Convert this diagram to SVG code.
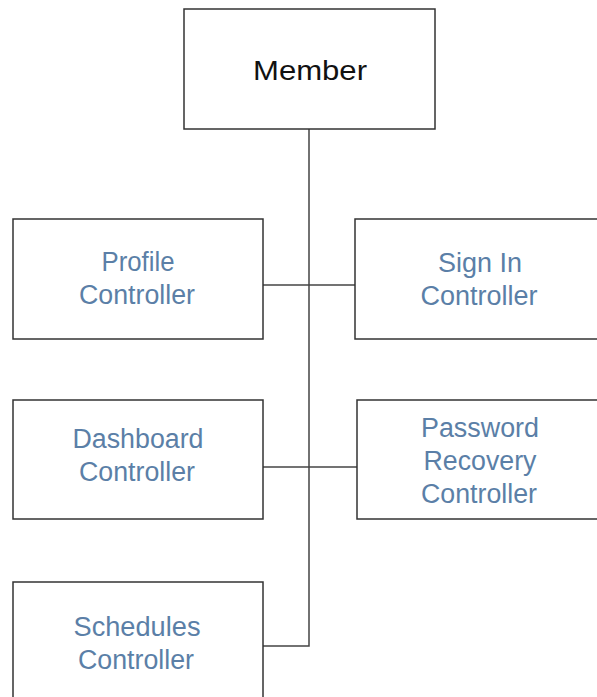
<svg xmlns="http://www.w3.org/2000/svg" width="597" height="697" viewBox="0 0 597 697">
  <style>
    .box { fill: #ffffff; stroke: #333333; stroke-width: 1.5; }
    .wire { fill: none; stroke: #444444; stroke-width: 1.5; }
    .root { font-family: "Liberation Sans", Arial, sans-serif; font-size: 28px; fill: #111111; text-anchor: middle; }
    .lbl { font-family: "Liberation Sans", Arial, sans-serif; font-size: 27px; fill: #5b7fa7; text-anchor: middle; }
  </style>
  <rect width="597" height="697" fill="#ffffff"/>

  <g id="connectors">
    <path class="wire" d="M309,129 V646 H263"/>
    <path class="wire" d="M263,285 H355"/>
    <path class="wire" d="M263,467 H357"/>
  </g>

  <g id="member">
    <rect class="box" x="184" y="9" width="251" height="120"/>
    <text class="root" x="310" y="80" textLength="114" lengthAdjust="spacingAndGlyphs">Member</text>
  </g>

  <g id="profile-controller">
    <rect class="box" x="13" y="219" width="250" height="120"/>
    <text class="lbl" x="138" y="271" textLength="73" lengthAdjust="spacingAndGlyphs">Profile</text>
    <text class="lbl" x="137" y="304" textLength="116" lengthAdjust="spacingAndGlyphs">Controller</text>
  </g>

  <g id="sign-in-controller">
    <rect class="box" x="355" y="219" width="252" height="120"/>
    <text class="lbl" x="480" y="272" textLength="84" lengthAdjust="spacingAndGlyphs">Sign In</text>
    <text class="lbl" x="479" y="305" textLength="117" lengthAdjust="spacingAndGlyphs">Controller</text>
  </g>

  <g id="dashboard-controller">
    <rect class="box" x="13" y="400" width="250" height="119"/>
    <text class="lbl" x="138" y="448" textLength="131" lengthAdjust="spacingAndGlyphs">Dashboard</text>
    <text class="lbl" x="137" y="481" textLength="116" lengthAdjust="spacingAndGlyphs">Controller</text>
  </g>

  <g id="password-recovery-controller">
    <rect class="box" x="357" y="400" width="250" height="119"/>
    <text class="lbl" x="480" y="437" textLength="118" lengthAdjust="spacingAndGlyphs">Password</text>
    <text class="lbl" x="480" y="470" textLength="113" lengthAdjust="spacingAndGlyphs">Recovery</text>
    <text class="lbl" x="479" y="503" textLength="116" lengthAdjust="spacingAndGlyphs">Controller</text>
  </g>

  <g id="schedules-controller">
    <rect class="box" x="13" y="582" width="250" height="125"/>
    <text class="lbl" x="137" y="636" textLength="127" lengthAdjust="spacingAndGlyphs">Schedules</text>
    <text class="lbl" x="136" y="669" textLength="116" lengthAdjust="spacingAndGlyphs">Controller</text>
  </g>
</svg>
